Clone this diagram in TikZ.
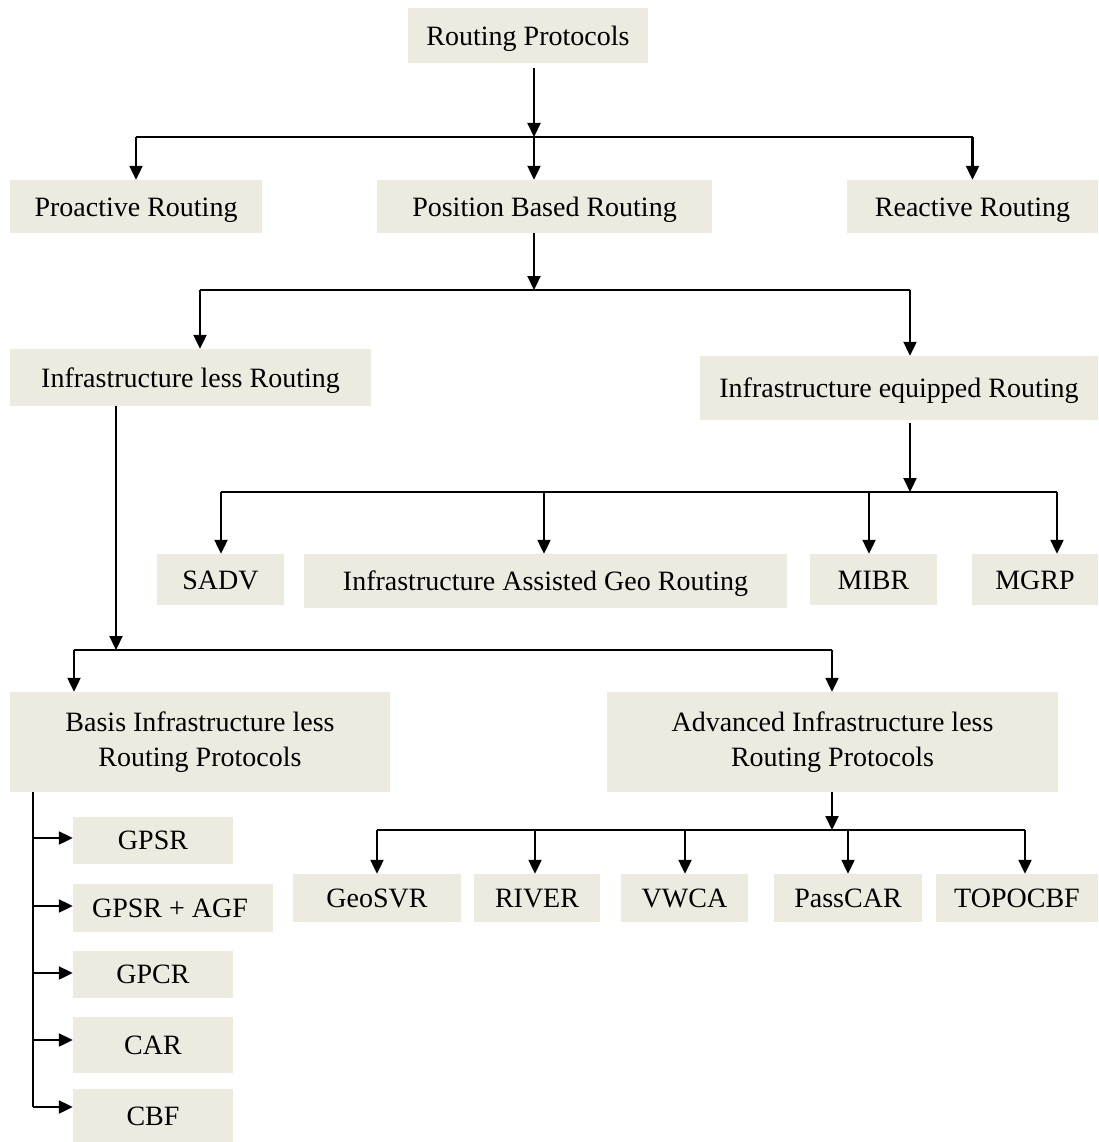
\documentclass[tikz,border=0pt]{standalone}
\usepackage{fontspec}
\setmainfont{Liberation Serif}
\usetikzlibrary{arrows.meta}
\definecolor{boxfill}{RGB}{237,234,224}
\begin{document}
\begin{tikzpicture}[x=1pt,y=-1pt,
  box/.style={fill=boxfill, inner sep=0pt, font=\fontsize{28}{35}\selectfont, align=center},
  onebox/.style={box, text height=25.5pt, text depth=6pt},
  link/.style={line width=2.2pt, black},
  arr/.style={link, -{Triangle[length=14pt,width=13pt]}}]
\useasboundingbox (0,0) rectangle (1099,1142);

% ---- boxes ----
\node[onebox, minimum width=240, minimum height=55] (root) at (528,35.5) {Routing Protocols};

\node[onebox, minimum width=252, minimum height=53] (pro) at (136,206.5) {Proactive Routing};
\node[onebox, minimum width=335, minimum height=53] (pos) at (544.5,206.5) {Position Based Routing};
\node[onebox, minimum width=251, minimum height=53] (rea) at (972.5,206.5) {Reactive Routing};

\node[onebox, minimum width=361, minimum height=57] (inl) at (190.5,377.5) {Infrastructure less Routing};
\node[onebox, minimum width=398, minimum height=64] (ieq) at (899,388) {Infrastructure equipped Routing};

\node[onebox, minimum width=127, minimum height=51] (sadv) at (220.5,579.5) {SADV};
\node[onebox, minimum width=483, minimum height=54] (iagr) at (545.5,581) {Infrastructure Assisted Geo Routing};
\node[onebox, minimum width=127, minimum height=51] (mibr) at (873.5,579.5) {MIBR};
\node[onebox, minimum width=126, minimum height=51] (mgrp) at (1035,579.5) {MGRP};

\node[box, minimum width=380, minimum height=100] (basis) at (200,742) {Basis Infrastructure less\\Routing Protocols};
\node[box, minimum width=451, minimum height=100] (adv) at (832.5,742) {Advanced Infrastructure less\\Routing Protocols};

\node[onebox, minimum width=168, minimum height=48] (geosvr) at (377,898) {GeoSVR};
\node[onebox, minimum width=126, minimum height=48] (river) at (537,898) {RIVER};
\node[onebox, minimum width=127, minimum height=48] (vwca) at (684.5,898) {VWCA};
\node[onebox, minimum width=148, minimum height=48] (passcar) at (848,898) {PassCAR};
\node[onebox, minimum width=162, minimum height=48] (topo) at (1017,898) {TOPOCBF};

\node[onebox, minimum width=160, minimum height=47] (gpsr) at (153,840) {GPSR};
\node[onebox, minimum width=200, minimum height=48] (agf) at (173,907.5) {GPSR + AGF\hspace*{6pt}};
\node[onebox, minimum width=160, minimum height=47] (gpcr) at (153,974) {GPCR};
\node[onebox, minimum width=160, minimum height=56] (car) at (153,1045) {CAR};
\node[onebox, minimum width=160, minimum height=53] (cbf) at (153,1115.5) {CBF};

% ---- junction points ----
\coordinate (j1) at (534,137);
\coordinate (j2) at (534,290);
\coordinate (j2l) at (200,290);
\coordinate (j2r) at (910,290);
\coordinate (j3) at (910,492);
\coordinate (j3a) at (221,492);
\coordinate (j3b) at (544,492);
\coordinate (j3c) at (869,492);
\coordinate (j3d) at (1057,492);
\coordinate (j4) at (116,650);
\coordinate (j4l) at (74,650);
\coordinate (j4r) at (832,650);
\coordinate (j5) at (832,830);
\coordinate (j5a) at (377,830);
\coordinate (j5b) at (535,830);
\coordinate (j5c) at (685,830);
\coordinate (j5d) at (848,830);
\coordinate (j5e) at (1025,830);
\coordinate (t1) at (33,838);
\coordinate (t2) at (33,906);
\coordinate (t3) at (33,973);
\coordinate (t4) at (33,1040);
\coordinate (t5) at (33,1107);

% ---- level 1 ----
\draw[link] (pro.north |- j1) -- (rea.north |- j1);
\draw[arr] ([yshift=-5pt]j1 |- root.south) -- (j1);
\draw[arr] (pro.north |- j1) -- (pro.north);
\draw[arr] (j1) -- (j1 |- pos.north);
\draw[arr] (rea.north |- j1) -- (rea.north);

% ---- level 2 ----
\draw[link] (j2l) -- (j2r);
\draw[arr] (j2 |- pos.south) -- (j2);
\draw[arr] (j2l) -- (j2l |- inl.north);
\draw[arr] (j2r) -- (j2r |- ieq.north);

% ---- infrastructure equipped ----
\draw[link] (j3a) -- (j3d);
\draw[arr] ([yshift=-3pt]j3 |- ieq.south) -- (j3);
\draw[arr] (j3a) -- (j3a |- sadv.north);
\draw[arr] (j3b) -- (j3b |- iagr.north);
\draw[arr] (j3c) -- (j3c |- mibr.north);
\draw[arr] (j3d) -- (j3d |- mgrp.north);

% ---- infrastructure less ----
\draw[link] (j4l) -- (j4r);
\draw[arr] (j4 |- inl.south) -- (j4);
\draw[arr] (j4l) -- (j4l |- basis.north);
\draw[arr] (j4r) -- (j4r |- adv.north);

% ---- advanced protocols ----
\draw[link] (j5a) -- (j5e);
\draw[arr] (j5 |- adv.south) -- (j5);
\draw[arr] (j5a) -- (j5a |- geosvr.north);
\draw[arr] (j5b) -- (j5b |- river.north);
\draw[arr] (j5c) -- (j5c |- vwca.north);
\draw[arr] (j5d) -- (j5d |- passcar.north);
\draw[arr] (j5e) -- (j5e |- topo.north);

% ---- basic protocols ----
\draw[link] (t1 |- basis.south) -- (t5);
\draw[arr] (t1) -- (t1 -| gpsr.west);
\draw[arr] (t2) -- (t2 -| agf.west);
\draw[arr] (t3) -- (t3 -| gpcr.west);
\draw[arr] (t4) -- (t4 -| car.west);
\draw[arr] (t5) -- (t5 -| cbf.west);
\end{tikzpicture}
\end{document}
